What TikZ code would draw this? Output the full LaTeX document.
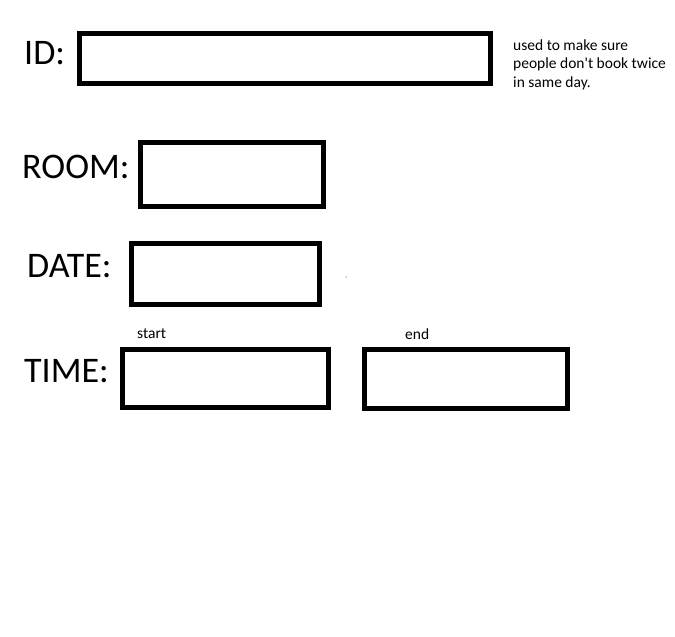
\documentclass[tikz,border=0pt]{standalone}
\usepackage{fontspec}
\setmainfont{Carlito}
\usetikzlibrary{positioning}

\begin{document}
\begin{tikzpicture}[x=1pt, y=-1pt,
	field/.style={rectangle, draw=black, line width=5pt, inner sep=0pt, fill=none},
	biglabel/.style={inner sep=0pt, anchor=west, font=\fontsize{36}{40}\selectfont},
	note/.style={inner sep=0pt, font=\fontsize{15.5}{18.3}\selectfont}]

    \useasboundingbox (0,0) rectangle (675,637);

    % entry boxes
    \node (idbox) [field, minimum width=411pt, minimum height=50pt] at (285,58.5) {};
    \node (roombox) [field, minimum width=183pt, minimum height=64pt] at (232,174.5) {};
    \node (datebox) [field, minimum width=188pt, minimum height=61pt] at (225.5,274) {};
    \node (startbox) [field, minimum width=206pt, minimum height=58pt] at (225.5,378.5) {};
    \node (endbox) [field, minimum width=203pt, minimum height=59pt] at (466,379) {};

    % field names
    \node (idlabel) [biglabel] at (24,53) {ID:};
    \node (roomlabel) [biglabel] at (22,167) {ROOM:};
    \node (datelabel) [biglabel] at (27,266) {DATE:};
    \node (timelabel) [biglabel] at (24,371) {TIME:};

    % small notes
    \node (idnote) [note, anchor=north west, align=left] at (513,39.5) {used to make sure\\people don\textquotesingle t book twice\\in same day.};
    \node (startnote) [note, anchor=south west] at (137,339) {start};
    \node (endnote) [note, anchor=south west] at (405,339.5) {end};

    \fill (346,277) circle (0.5pt);

\end{tikzpicture}
\end{document}
